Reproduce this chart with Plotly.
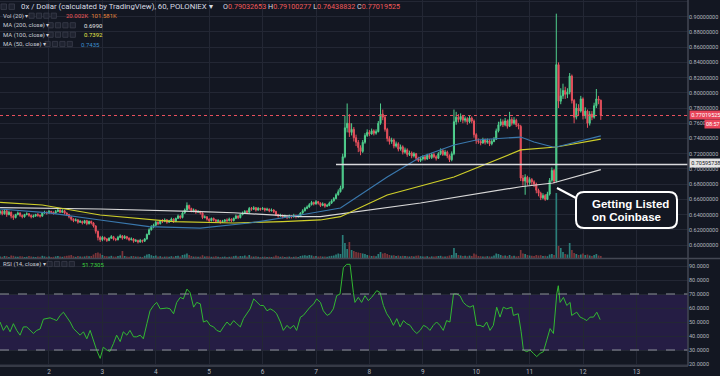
import plotly.graph_objects as go
import pandas as pd

# ---------------- data (hourly candles, first candle = 2018-10-01 02:00) ----------------
start_time = "2018-10-01 02:00"

opens = [
 .642,.644,.641,.645,.640,.643,.638,.636,.640,.642,.639,.637,.640,.641,.639,.637,.638,.640,.639,.638,.642,.643,
 .642,.644,.643,.642,.644,.646,.643,.645,.642,.640,.637,.634,.632,.633,.630,.631,.629,.632,.628,.631,.629,.625,.618,.610,
 .607,.610,.608,.606,.609,.611,.608,.607,.610,.612,.609,.611,.609,.607,.608,.605,.606,.604,.606,.605,.608,.614,.620,.624,
 .626,.630,.628,.632,.631,.633,.630,.632,.634,.631,.635,.638,.636,.642,.646,.652,.648,.645,.646,.643,.644,.642,.636,.637,
 .634,.632,.635,.633,.631,.632,.630,.631,.633,.632,.634,.632,.635,.638,.636,.640,.642,.644,.643,.648,.647,.649,.646,.648,
 .647,.648,.646,.647,.645,.646,.644,.640,.638,.639,.637,.638,.636,.638,.637,.639,.637,.638,.642,.645,.648,.650,.653,.656,
 .654,.657,.655,.652,.654,.651,.652,.655,.658,.661,.666,.670,.675,.716,.754,.760,.748,.752,.741,.735,.728,.723,.735,.744,
 .748,.746,.750,.747,.749,.760,.772,.768,.752,.740,.736,.738,.730,.733,.726,.729,.722,.725,.719,.721,.717,.720,.714,.711,
 .713,.716,.713,.718,.715,.719,.716,.714,.720,.724,.719,.722,.717,.712,.720,.762,.768,.765,.769,.764,.766,.762,.767,.763,
 .745,.737,.736,.734,.738,.735,.737,.733,.736,.739,.750,.758,.762,.758,.763,.756,.765,.760,.764,.758,.756,.688,.684,.689,
 .682,.686,.683,.680,.672,.668,.662,.665,.660,.667,.685,.698,.684,.837,.789,.796,.803,.798,.801,.822,.790,.768,.780,.776,
 .792,.770,.776,.760,.772,.768,.783,.792,.7903]

highs = [
 .646,.646,.647,.646,.645,.644,.640,.641,.644,.643,.640,.641,.643,.642,.640,.640,.641,.642,.640,.643,.645,.644,
 .646,.645,.644,.646,.648,.647,.647,.646,.643,.641,.638,.635,.635,.634,.633,.632,.633,.633,.632,.632,.630,.626,.619,.612,
 .612,.611,.609,.610,.613,.612,.609,.612,.614,.613,.613,.612,.610,.610,.609,.608,.607,.608,.607,.609,.615,.622,.626,.628,
 .632,.631,.633,.634,.635,.634,.633,.636,.635,.636,.640,.639,.644,.648,.656,.653,.649,.648,.647,.646,.645,.643,.639,.638,
 .635,.636,.636,.634,.634,.633,.633,.634,.635,.636,.635,.636,.640,.639,.641,.644,.646,.646,.650,.650,.651,.650,.650,.649,
 .650,.649,.649,.648,.648,.647,.645,.641,.641,.640,.640,.639,.640,.639,.641,.640,.640,.643,.647,.650,.652,.655,.658,.657,
 .659,.658,.656,.656,.655,.654,.657,.660,.663,.668,.673,.678,.720,.770,.786,.772,.760,.755,.745,.738,.731,.738,.747,.752,
 .751,.753,.752,.752,.763,.786,.778,.770,.754,.743,.741,.740,.736,.735,.732,.731,.728,.727,.724,.723,.722,.721,.716,.716,
 .718,.718,.720,.720,.721,.721,.718,.722,.727,.726,.725,.724,.719,.723,.778,.775,.772,.773,.771,.769,.768,.770,.769,.765,
 .747,.740,.738,.741,.740,.740,.739,.739,.742,.753,.762,.766,.765,.767,.765,.775,.768,.768,.766,.760,.758,.692,.693,.691,
 .689,.688,.685,.682,.674,.670,.668,.667,.670,.688,.702,.700,.904,.840,.806,.812,.808,.806,.826,.824,.792,.786,.785,.796,
 .794,.781,.778,.776,.776,.787,.805,.796,.7910]

lows = [
 .640,.639,.640,.637,.639,.635,.633,.635,.639,.637,.635,.636,.639,.637,.635,.636,.637,.637,.636,.637,.641,.640,
 .641,.641,.640,.641,.643,.642,.642,.640,.638,.635,.632,.630,.631,.628,.629,.627,.628,.626,.627,.627,.623,.615,.606,.604,
 .605,.606,.604,.605,.608,.606,.605,.606,.609,.607,.608,.607,.605,.606,.603,.604,.602,.603,.603,.604,.607,.613,.619,.622,
 .625,.626,.627,.629,.630,.628,.629,.631,.629,.630,.634,.634,.635,.641,.645,.646,.643,.643,.641,.642,.640,.634,.635,.632,
 .630,.631,.631,.629,.630,.628,.629,.630,.630,.631,.630,.631,.634,.634,.635,.639,.641,.641,.642,.645,.646,.644,.645,.645,
 .646,.644,.645,.643,.644,.642,.638,.636,.637,.635,.636,.634,.635,.635,.636,.635,.636,.637,.641,.644,.647,.649,.652,.652,
 .653,.653,.650,.651,.649,.650,.651,.654,.657,.660,.665,.669,.673,.714,.748,.742,.744,.736,.730,.722,.718,.721,.733,.742,
 .743,.745,.744,.745,.748,.758,.764,.749,.736,.732,.733,.727,.728,.723,.724,.719,.720,.716,.717,.714,.715,.711,.709,.709,
 .711,.711,.712,.713,.713,.714,.711,.713,.718,.717,.717,.714,.709,.710,.718,.758,.761,.762,.760,.761,.758,.760,.760,.741,
 .733,.733,.731,.733,.732,.733,.730,.731,.735,.738,.748,.756,.755,.756,.753,.755,.757,.758,.755,.752,.684,.678,.666,.678,
 .679,.679,.676,.668,.664,.659,.660,.658,.659,.665,.683,.681,.682,.780,.785,.792,.792,.793,.798,.786,.760,.765,.770,.774,
 .765,.766,.754,.757,.764,.766,.780,.785,.7644]

closes = [
 .644,.641,.645,.640,.643,.638,.636,.640,.642,.639,.637,.640,.641,.639,.637,.638,.640,.639,.638,.642,.643,.642,
 .644,.643,.642,.644,.646,.643,.645,.642,.640,.637,.634,.632,.633,.630,.631,.629,.632,.628,.631,.629,.625,.618,.610,.607,
 .610,.608,.606,.609,.611,.608,.607,.610,.612,.609,.611,.609,.607,.608,.605,.606,.604,.606,.605,.608,.614,.620,.624,.626,
 .630,.628,.632,.631,.633,.630,.632,.634,.631,.635,.638,.636,.642,.646,.652,.648,.645,.646,.643,.644,.642,.636,.637,.634,
 .632,.635,.633,.631,.632,.630,.631,.633,.632,.634,.632,.635,.638,.636,.640,.642,.644,.643,.648,.647,.649,.646,.648,.647,
 .648,.646,.647,.645,.646,.644,.640,.638,.639,.637,.638,.636,.638,.637,.639,.637,.638,.642,.645,.648,.650,.653,.656,.654,
 .657,.655,.652,.654,.651,.652,.655,.658,.661,.666,.670,.675,.716,.754,.760,.748,.752,.741,.735,.728,.723,.735,.744,.748,
 .746,.750,.747,.749,.760,.772,.768,.752,.740,.736,.738,.730,.733,.726,.729,.722,.725,.719,.721,.717,.720,.714,.711,.713,
 .716,.713,.718,.715,.719,.716,.714,.720,.724,.719,.722,.717,.712,.720,.762,.768,.765,.769,.764,.766,.762,.767,.763,.745,
 .737,.736,.734,.738,.735,.737,.733,.736,.739,.750,.758,.762,.758,.763,.756,.765,.760,.764,.758,.756,.688,.684,.689,.682,
 .686,.683,.680,.672,.668,.662,.665,.660,.667,.685,.698,.684,.837,.789,.796,.803,.798,.801,.822,.790,.768,.780,.776,.792,
 .770,.776,.760,.772,.768,.783,.792,.7903,.7702]

volume_k = [
 15,12,20,18,10,25,22,14,12,18,16,10,12,20,15,12,10,14,12,22,16,12,
 14,10,12,16,20,14,12,18,22,25,30,18,12,20,15,14,16,22,18,20,35,50,55,45,
 30,20,18,16,22,15,14,20,25,70,20,15,12,18,20,14,16,12,10,22,35,40,28,20,
 25,15,18,12,14,16,12,18,14,20,22,15,30,35,45,30,20,14,16,12,14,28,15,18,
 16,12,14,18,12,10,12,14,10,12,14,18,22,16,20,18,25,14,30,16,14,18,12,10,
 12,14,10,12,10,14,25,18,12,16,10,12,14,10,12,14,10,20,25,28,22,30,26,18,
 20,15,18,14,16,12,18,22,25,35,45,40,230,150,90,160,80,70,60,55,50,45,40,30,
 25,20,22,18,40,60,45,50,40,30,25,28,20,25,18,22,20,18,15,20,16,22,25,18,
 15,14,18,12,16,14,18,20,22,16,14,18,25,30,100,50,30,25,20,22,18,24,20,45,
 35,20,18,16,14,18,16,15,25,45,40,30,22,25,20,30,18,22,16,20,80,45,40,30,
 25,22,20,30,25,28,20,22,18,35,40,30,650,120,100,60,40,35,150,80,50,40,30,35,
 45,30,35,25,20,30,40,25,20]

# moving averages read at selected hours (hour offset from start_time)
ma200_h = [0, 45, 90, 105, 135, 144, 189, 234, 248.5, 270]
ma200_v = [.6490, .6473, .6438, .6424, .6372, .6372, .6552, .6766, .6815, .6990]
ma100_h = [0, 19, 45, 67, 78, 105, 127, 144, 153, 174, 204, 234, 248.5, 250, 270]
ma100_v = [.6561, .6526, .6394, .6329, .6306, .6289, .6306, .6329, .6372, .6657, .6894, .7249, .7288, .7288, .7392]
ma50_h = [0, 22, 45, 67, 90, 112, 135, 144, 153, 174, 189, 204, 214, 234, 240, 248.5, 250, 270]
ma50_v = [.6473, .6421, .6329, .6241, .6223, .6289, .6394, .6438, .6486, .6894, .7157, .7314, .7380, .7419, .7354, .7288, .7288, .7435]

rsi_h = [0,1.5,3,4.5,6,7.5,9,10.5,12,13.5,15,16.5,18,19.5,22.5,24,25.5,27,28.5,30,31.5,33,34.5,36,37.5,39,40.5,42,43.4,45,
 46.4,48,49.4,51,52.4,54,55.4,57,58.4,60,61.4,63,64.4,66,67.4,69,70.4,72,75,76.4,78,79.4,81,82.4,84,85.4,87,88.4,90,91.4,
 93,94.4,96,97.4,99,100.4,102,103.4,105,106.4,108,109.4,111,112.4,114,115.4,117,118.4,120,121.4,123,124.3,126,127.3,129,130.3,132,133.3,135,136.3,
 138,139.3,141,142.3,144,145.3,147,148.3,149.8,151.3,152.8,154.3,155.8,157.3,158.8,159.5,161,162.5,164,165.5,167,169.3,170.8,172.3,173.8,175.3,176.8,178.3,
 179.8,181.3,182.8,184.3,185.8,187.3,188.8,190.3,191.7,193.2,194.7,196.2,197.7,199.2,200.7,202.2,203.8,205.2,206.7,208.2,209.7,211.2,212.7,214.2,215.7,217.2,218.7,220.2,
 221.7,223.2,224.7,226.2,227.7,230,230.7,232.9,234.2,235.2,236.7,238.2,239.7,241.2,242.7,244.2,245.7,247.2,248.7,250.2,250.9,251.7,253.2,254.7,256.2,256.9,259.2,260.7,
 262.2,263.7,265.2,266.7,268.2,269.7]
rsi_v = [50,44,47.6,43,48.8,44,40.6,46.5,46.5,44,41.8,44,45,52,53,52,51,54.7,57,53.5,50,45.3,43,40.6,43,38,44,36,30,24,
 32,30,29,34.7,40.6,36,43,40.6,44,39.4,39.4,40.6,38,48.8,58,61.8,64,59.4,60,59.4,55.9,64,67.6,66.5,73.5,71,60.6,64,63,50,
 51,47.6,46.5,44,43,46.5,50,47.6,51,48.8,46.5,52.4,55.9,59.4,66.5,64,61.8,61.8,58,59.4,58,55.9,50,44,47.6,45.3,47.6,44,53.5,54.7,
 58,60.6,63,66.5,64,58,54.7,55.9,59.4,68.8,70,88.8,91.2,91.2,71,64,67.6,64,68.8,65.3,67.6,72.4,71,61.8,55.9,52.4,47.6,52.4,
 46.5,51,48.8,47.6,44,41.8,44,47.6,46.5,44,47.6,50,47.6,44,51,50,70,70,68.8,64,61.8,60.6,61.8,47.6,47.6,46.5,50,44,
 47.6,60.6,53.5,60.6,59.4,60.6,54.7,55.9,43,30,28.8,30,27.6,25.3,27.6,28.8,37,45.3,41.8,70,75.9,64,67.6,61.8,64,54.7,57,53.5,
 52.4,51,53.5,53.5,57,51.73]

last_price = 0.77019525
level_price = 0.70595738

assert len(opens) == len(highs) == len(lows) == len(closes) == len(volume_k)
assert len(rsi_h) == len(rsi_v)

# ---------------- styling ----------------
BG = "#131722"
GRID = "#232734"
UP = "#4fcf8d"
DN = "#e8505d"
VUP = "#2b7f7a"
VDN = "#7c3439"
TXT = "#c9ccd4"
AX = "#b2b5be"
FONT = "Roboto"

t0 = pd.Timestamp(start_time)
times = [t0 + pd.Timedelta(hours=i) for i in range(len(closes))]
to_t = lambda hs: [t0 + pd.Timedelta(hours=h) for h in hs]

W, H = 720, 376
PW, PH = 688, 366
def X(px):
    return px / PW
def Y(py):
    return (PH - py) / PH

x_range = [pd.Timestamp("2018-10-01 01:59"), pd.Timestamp("2018-10-13 23:11")]

fig = go.Figure()

vol_colors = [VUP if c >= o else VDN for o, c in zip(opens, closes)]
fig.add_trace(go.Bar(x=times, y=volume_k, marker=dict(color=vol_colors, line=dict(width=0)),
                     width=3600000 * 0.75, xaxis="x", yaxis="y3", hoverinfo="skip"))

fig.add_trace(go.Candlestick(x=times, open=opens, high=highs, low=lows, close=closes,
                             increasing=dict(line=dict(color=UP, width=1), fillcolor=UP),
                             decreasing=dict(line=dict(color=DN, width=1), fillcolor=DN),
                             whiskerwidth=0, xaxis="x", yaxis="y"))

fig.add_trace(go.Scatter(x=to_t(ma200_h), y=ma200_v, mode="lines", line=dict(color="#d8d8d8", width=1.2),
                         xaxis="x", yaxis="y"))
fig.add_trace(go.Scatter(x=to_t(ma100_h), y=ma100_v, mode="lines", line=dict(color="#cfcf2a", width=1.2),
                         xaxis="x", yaxis="y"))
fig.add_trace(go.Scatter(x=to_t(ma50_h), y=ma50_v, mode="lines", line=dict(color="#3a78ad", width=1.2),
                         xaxis="x", yaxis="y"))

fig.add_trace(go.Scatter(x=to_t(rsi_h), y=rsi_v, mode="lines", line=dict(color="#32b832", width=1),
                         xaxis="x2", yaxis="y2"))

fig.update_layout(
    width=W, height=H, margin=dict(l=0, r=W - PW, t=0, b=H - PH, autoexpand=False),
    paper_bgcolor=BG, plot_bgcolor=BG, showlegend=False,
    font=dict(family=FONT, color=AX),
    xaxis=dict(domain=[0, 1], anchor="y", type="date", range=x_range, showticklabels=False,
               showgrid=True, gridcolor=GRID, gridwidth=1, dtick=86400000, tick0="2018-10-01",
               rangeslider=dict(visible=False), zeroline=False, ticks="", automargin=False),
    xaxis2=dict(domain=[0, 1], anchor="y2", type="date", range=x_range, matches="x",
                showgrid=True, gridcolor=GRID, dtick=86400000, tick0="2018-10-01",
                tickformat="%-d", tickfont=dict(size=6.5, color=AX), ticks="", zeroline=False,
                automargin=False),
    yaxis=dict(domain=[(PH - 258) / PH, 1], anchor="x", side="right",
               range=[0.58292, 0.92198], dtick=0.02, tick0=0, tickformat=".8f",
               tickfont=dict(size=5.5, color=AX), showgrid=True, gridcolor=GRID, zeroline=False, ticks="",
               automargin=False),
    yaxis3=dict(overlaying="y", range=[0, 2580], visible=False, automargin=False),
    yaxis2=dict(domain=[0, (PH - 259) / PH], anchor="x2", side="right",
                range=[18.57, 95.0], dtick=10, tick0=0, tickformat=".4f",
                tickfont=dict(size=5.5, color=AX), showgrid=True, gridcolor=GRID, zeroline=False, ticks="",
                automargin=False),
)

shapes = []
# RSI band and bounds
shapes.append(dict(type="rect", xref="paper", yref="y2", x0=0, x1=1, y0=30, y1=70,
                   fillcolor="rgba(110,50,200,0.21)", line=dict(width=0), layer="below"))
for lv in (30, 70):
    shapes.append(dict(type="line", xref="paper", yref="y2", x0=0, x1=1, y0=lv, y1=lv,
                       line=dict(color="#8d909a", width=1, dash="dash")))
# last price dotted line and horizontal level
shapes.append(dict(type="line", xref="paper", yref="y", x0=0, x1=1, y0=last_price, y1=last_price,
                   line=dict(color=DN, width=1, dash="dot")))
shapes.append(dict(type="line", xref="paper", yref="y", x0=X(336), x1=1, y0=level_price, y1=level_price,
                   line=dict(color="#d9dadd", width=1.5)))
# pane separators
shapes.append(dict(type="line", xref="paper", yref="paper", x0=0, x1=X(W), y0=Y(258.5), y1=Y(258.5),
                   line=dict(color="#434753", width=1.5)))
shapes.append(dict(type="line", xref="paper", yref="paper", x0=0, x1=1, y0=Y(366), y1=Y(366),
                   line=dict(color="#434753", width=1.5)))
shapes.append(dict(type="line", xref="paper", yref="paper", x0=1, x1=1, y0=Y(0), y1=Y(366),
                   line=dict(color="#434753", width=1.5)))

# callout box with rounded corners
bx0, bx1, by0, by1, r = 576, 677, 192, 228, 8
path = (f"M {X(bx0 + r)},{Y(by0)} L {X(bx1 - r)},{Y(by0)} Q {X(bx1)},{Y(by0)} {X(bx1)},{Y(by0 + r)} "
        f"L {X(bx1)},{Y(by1 - r)} Q {X(bx1)},{Y(by1)} {X(bx1 - r)},{Y(by1)} "
        f"L {X(bx0 + r)},{Y(by1)} Q {X(bx0)},{Y(by1)} {X(bx0)},{Y(by1 - r)} "
        f"L {X(bx0)},{Y(by0 + r)} Q {X(bx0)},{Y(by0)} {X(bx0 + r)},{Y(by0)} Z")
shapes.append(dict(type="path", xref="paper", yref="paper", path=path, fillcolor=BG,
                   line=dict(color="white", width=2)))
shapes.append(dict(type="line", xref="paper", yref="paper", x0=X(557), y0=Y(188), x1=X(576), y1=Y(198),
                   line=dict(color="white", width=2)))

# little legend icon boxes
def icons(x_start, yc, n=4, size=5.2, gap=2.2):
    out = []
    for i in range(n):
        x0 = x_start + i * (size + gap)
        out.append(dict(type="rect", xref="paper", yref="paper", x0=X(x0), x1=X(x0 + size),
                        y0=Y(yc - size / 2), y1=Y(yc + size / 2),
                        fillcolor="#1f2330", line=dict(color="#3a3e4b", width=0.8)))
    return out

shapes += icons(1, 6.7, n=2, size=5.5, gap=2.5)
shapes += icons(29, 15.7)
shapes += icons(48, 25.3)
shapes += icons(48, 34.7)
shapes += icons(45, 44)
shapes += icons(47, 264)

fig.update_layout(shapes=shapes)

ann = []
def txt(x, y, text, size=6.8, color=TXT, **kw):
    d = dict(xref="paper", yref="paper", x=X(x), y=Y(y), text=text, showarrow=False,
             xanchor="left", yanchor="middle", font=dict(size=size, color=color, family=FONT))
    d.update(kw)
    ann.append(d)

RED = "#ef5a5a"
txt(19, 6.7, "0x / Dollar (calculated by TradingView), 60, POLONIEX ▾", size=7.8, color="#d8dbe2")
txt(221, 6.7, f"O<span style='color:{RED}'>0.79032653</span> H<span style='color:{RED}'>0.79100277</span> "
              f"L<span style='color:{RED}'>0.76438832</span> C<span style='color:{RED}'>0.77019525</span>",
    size=7.2, color="#d8dbe2")
txt(1, 15.7, "Vol (20) ▾", size=6.0)
txt(64, 15.7, f"<span style='color:{RED}'>20.002K</span>  <span style='color:#e5853a'>101.581K</span>", size=6.0)
txt(1, 25.3, "MA (200, close) ▾", size=6.0)
txt(82, 25.3, "0.6990", size=6.0, color="#e6e6e6")
txt(1, 34.7, "MA (100, close) ▾", size=6.0)
txt(82, 34.7, "0.7392", size=6.0, color="#e8e84a")
txt(1, 44, "MA (50, close) ▾", size=6.0)
txt(79, 44, "0.7435", size=6.0, color="#3d8fd0")
txt(1, 264, "RSI (14, close) ▾", size=6.0)
txt(80, 264, "51.7305", size=6.0, color="#3ad23a")

# callout text
txt(590, 203.5, "<b>Getting Listed</b>", size=11.5, color="white")
txt(590, 217.5, "<b>on Coinbase</b>", size=11.5, color="white")
for a in ann[-2:]:
    a["font"]["family"] = "Liberation Sans"

# price axis tags
txt(688.5, 115, "0.77019525", size=5.5, color="white", bgcolor="#e8455a", borderpad=1.2)
txt(704, 124, "08:57", size=5.5, color="white", bgcolor="#e8455a", borderpad=1)
txt(688.5, 163, "0.70595738", size=5.5, color="#131722", bgcolor="#e6e6e6", borderpad=1.2)

fig.update_layout(annotations=ann)

fig.write_html("out.html",
               config={"displayModeBar": False, "staticPlot": True},
               post_script="document.body.style.margin='0';document.body.style.padding='0';"
                           "document.body.style.overflow='hidden';"
                           "document.body.style.background='" + BG + "';")
